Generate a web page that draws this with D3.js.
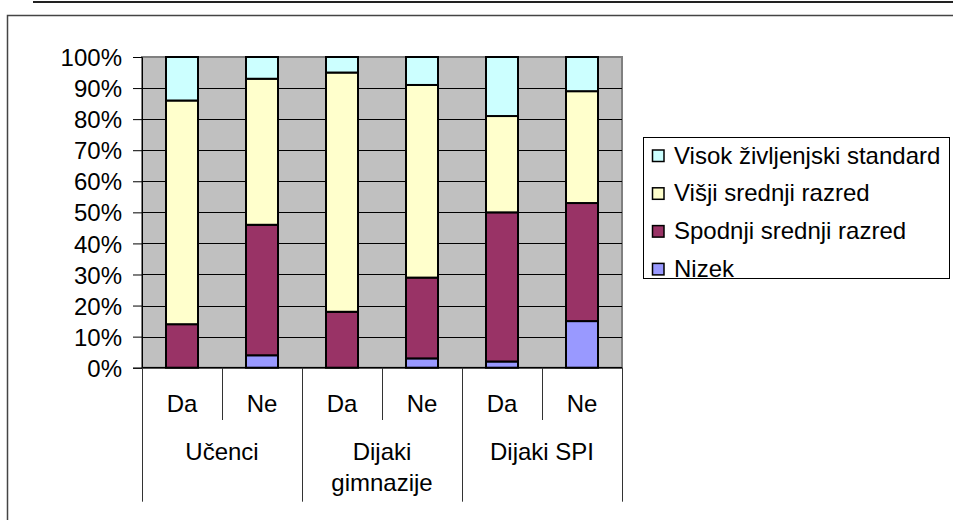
<!DOCTYPE html>
<html>
<head>
<meta charset="utf-8">
<script src="https://cdn.jsdelivr.net/npm/d3@7"></script>
<style>
body { margin: 0; background: #fff; }
text { font-family: "Liberation Sans", Arial, sans-serif; }
</style>
</head>
<body>
<div id="chart"></div>
<script>

// data (percent, bottom -> top)
var categories = ["Da", "Ne", "Da", "Ne", "Da", "Ne"];
var groups = ["Učenci", "Dijaki gimnazije", "Dijaki SPI"];
var nizek   = [0, 4, 0, 3, 2, 15];
var spodnji = [14, 42, 18, 26, 48, 38];
var visji   = [72, 47, 77, 62, 31, 36];
var visok   = [14, 7, 5, 9, 19, 11];
var seriesNames = ["Nizek", "Spodnji srednji razred", "Višji srednji razred", "Visok življenjski standard"];
var seriesColors = ["#9999FF", "#993366", "#FFFFCC", "#CCFFFF"];
var yTicks = [0, 10, 20, 30, 40, 50, 60, 70, 80, 90, 100];

var width = 953, height = 520;
var plotLeft = 142, plotRight = 622, plotTop = 57, plotBottom = 367.7;
var fontSize = 24;

var rows = categories.map(function(c, i) {
	return { id: i, Nizek: nizek[i], "Spodnji srednji razred": spodnji[i],
		"Višji srednji razred": visji[i], "Visok življenjski standard": visok[i] };
});

var svg = d3.select("#chart")
	.append("svg")
	.attr("width", width)
	.attr("height", height);

// page line + chart frame
svg.append("line")
	.attr("x1", 33).attr("x2", width)
	.attr("y1", 2).attr("y2", 2)
	.attr("stroke", "#222").attr("stroke-width", 2);

svg.append("rect")
	.attr("x", 7.5).attr("y", 15.5)
	.attr("width", width).attr("height", height)
	.attr("fill", "none")
	.attr("stroke", "#444").attr("stroke-width", 1.5);

var x = d3.scaleBand()
	.domain(d3.range(categories.length))
	.range([plotLeft, plotRight])
	.paddingInner(0.6)
	.paddingOuter(0.3);

var xCell = d3.scaleBand()
	.domain(d3.range(categories.length))
	.range([plotLeft, plotRight]);

var xGroup = d3.scaleBand()
	.domain(d3.range(groups.length))
	.range([plotLeft, plotRight]);

var y = d3.scaleLinear()
	.domain([0, 100])
	.range([plotBottom, plotTop]);

// plot area
svg.append("rect")
	.attr("x", plotLeft).attr("y", plotTop)
	.attr("width", plotRight - plotLeft).attr("height", plotBottom - plotTop)
	.attr("fill", "#C0C0C0")
	.attr("stroke", "#808080").attr("stroke-width", 2);

svg.selectAll(".grid")
	.data(yTicks.filter(function(d) { return d > 0 && d < 100; }))
	.enter()
	.append("line")
	.attr("class", "grid")
	.attr("x1", plotLeft).attr("x2", plotRight)
	.attr("y1", function(d) { return Math.round(y(d)) + 0.5; })
	.attr("y2", function(d) { return Math.round(y(d)) + 0.5; })
	.attr("stroke", "#000").attr("stroke-width", 1);

// y axis
var yAxis = d3.axisLeft(y)
	.tickValues(yTicks)
	.tickSize(9)
	.tickPadding(11)
	.tickFormat(function(d) { return d + "%"; });

var yg = svg.append("g")
	.attr("transform", "translate(" + plotLeft + ",0)")
	.call(yAxis);
yg.select(".domain").attr("stroke", "#000");
yg.selectAll("text")
	.attr("font-size", fontSize + "px")
	.attr("font-family", "'Liberation Sans', Arial, sans-serif")
	.attr("fill", "#000")
	.attr("dy", "0.36em");

// bars
var stack = d3.stack().keys(seriesNames);
var layers = svg.selectAll(".layer")
	.data(stack(rows))
	.enter()
	.append("g")
	.attr("class", "layer")
	.attr("fill", function(d, i) { return seriesColors[i]; });

layers.selectAll("rect")
	.data(function(d) { return d.filter(function(p) { return p[1] - p[0] > 0; }); })
	.enter()
	.append("rect")
	.attr("x", function(d) { return x(d.data.id); })
	.attr("width", x.bandwidth())
	.attr("y", function(d) { return y(d[1]); })
	.attr("height", function(d) { return y(d[0]) - y(d[1]); })
	.attr("stroke", "#000")
	.attr("stroke-width", 2);

// category axis
svg.append("line")
	.attr("x1", plotLeft).attr("x2", plotRight)
	.attr("y1", plotBottom).attr("y2", plotBottom)
	.attr("stroke", "#000").attr("stroke-width", 1.5);

var cellEdges = d3.range(categories.length + 1);
svg.selectAll(".sep")
	.data(cellEdges)
	.enter()
	.append("line")
	.attr("class", "sep")
	.attr("x1", function(i) { return Math.round(plotLeft + i * xCell.step()) + 0.5; })
	.attr("x2", function(i) { return Math.round(plotLeft + i * xCell.step()) + 0.5; })
	.attr("y1", plotBottom)
	.attr("y2", function(i) { return i % 2 == 0 ? 501.7 : 420; })
	.attr("stroke", "#333").attr("stroke-width", 1);

svg.selectAll(".cat")
	.data(categories)
	.enter()
	.append("text")
	.attr("class", "cat")
	.attr("x", function(d, i) { return xCell(i) + xCell.bandwidth() / 2; })
	.attr("y", 411.5)
	.attr("text-anchor", "middle")
	.attr("font-size", fontSize + "px")
	.text(function(d) { return d; });

var groupLabels = svg.selectAll(".grp")
	.data(groups)
	.enter()
	.append("text")
	.attr("class", "grp")
	.attr("text-anchor", "middle")
	.attr("font-size", fontSize + "px");

groupLabels.each(function(d, i) {
	var cx = xGroup(i) + xGroup.bandwidth() / 2;
	var words = d == "Dijaki gimnazije" ? ["Dijaki", "gimnazije"] : [d];
	d3.select(this).selectAll("tspan")
		.data(words)
		.enter()
		.append("tspan")
		.attr("x", cx)
		.attr("y", function(w, j) { return 460 + j * 30.5; })
		.text(function(w) { return w; });
});

// legend
var legendX = 643.5, legendY = 137.5;
svg.append("rect")
	.attr("x", legendX).attr("y", legendY)
	.attr("width", 306).attr("height", 141)
	.attr("fill", "#fff")
	.attr("stroke", "#000").attr("stroke-width", 1);

var legendOrder = seriesNames.slice().reverse();
var legend = svg.selectAll(".legend")
	.data(legendOrder)
	.enter()
	.append("g")
	.attr("class", "legend")
	.attr("transform", function(d, i) { return "translate(652," + (155.5 + i * 37.8) + ")"; });

legend.append("rect")
	.attr("x", 0.5).attr("y", -5.5)
	.attr("width", 11.5).attr("height", 11.5)
	.attr("fill", function(d) { return seriesColors[seriesNames.indexOf(d)]; })
	.attr("stroke", "#000").attr("stroke-width", 1.5);

legend.append("text")
	.attr("x", 22)
	.attr("y", 8)
	.attr("font-size", fontSize + "px")
	.text(function(d) { return d; });

</script>
</body>
</html>
